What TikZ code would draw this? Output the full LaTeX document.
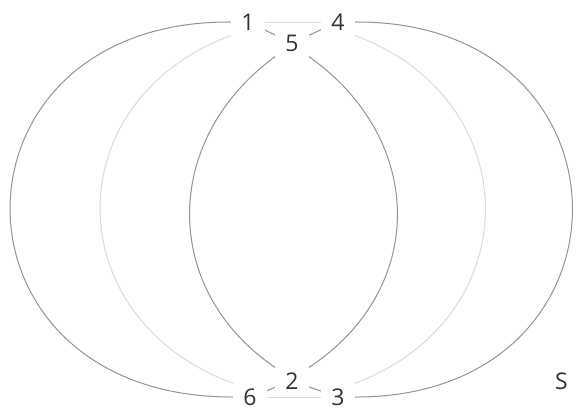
\documentclass[tikz,border=0pt]{standalone}
\usepackage{fontspec}
\setmainfont{Open Sans}
\begin{document}
\begin{tikzpicture}[x=1pt,y=-1pt,
  lbl/.style={fill=white,inner xsep=10pt,inner ysep=5pt,font=\fontsize{23}{24}\selectfont,text=black!80},
  darkedge/.style={draw=black!42,line width=1pt},
  lightedge/.style={draw=black!14,line width=1pt}]
\useasboundingbox[fill=white] (0,0) rectangle (577,410);
\node[lbl] (n1) at (248,22) {1};
\node[lbl] (n4) at (338,22) {4};
\node[lbl] (n5) at (292,43) {5};
\node[lbl] (n2) at (292,381) {2};
\node[lbl] (n6) at (250,397) {6};
\node[lbl] (n3) at (338,397) {3};
\node[lbl,anchor=west,inner sep=2pt] (s) at (553,381) {S};
% edges
\draw[lightedge] (n1.east) -- (n4.west);
\draw[lightedge] (n6.east) -- (n3.west);
\draw[lightedge] (n1.south west) .. controls (56,100) and (56,318) .. (n6.north west);
\draw[lightedge] (n4.south east) .. controls (529,100) and (529,318) .. (n3.north east);
\draw[darkedge] (n1.west) .. controls (-64,20) and (-64,398) .. (n6.west);
\draw[darkedge] (n4.east) .. controls (645,20) and (645,398) .. (n3.east);
\draw[darkedge] (n5.south west) .. controls (161,140) and (161,290) .. (n2.north west);
\draw[darkedge] (n5.south east) .. controls (427,140) and (427,290) .. (n2.north east);
\draw[darkedge] (n1) -- (n5);
\draw[darkedge] (n5) -- (n4);
\draw[darkedge] (n6) -- (n2);
\draw[darkedge] (n2) -- (n3);
% labels on top of the connectors
\node[lbl] at (n1) {1};
\node[lbl] at (n4) {4};
\node[lbl] at (n5) {5};
\node[lbl] at (n2) {2};
\node[lbl] at (n6) {6};
\node[lbl] at (n3) {3};
\end{tikzpicture}
\end{document}
